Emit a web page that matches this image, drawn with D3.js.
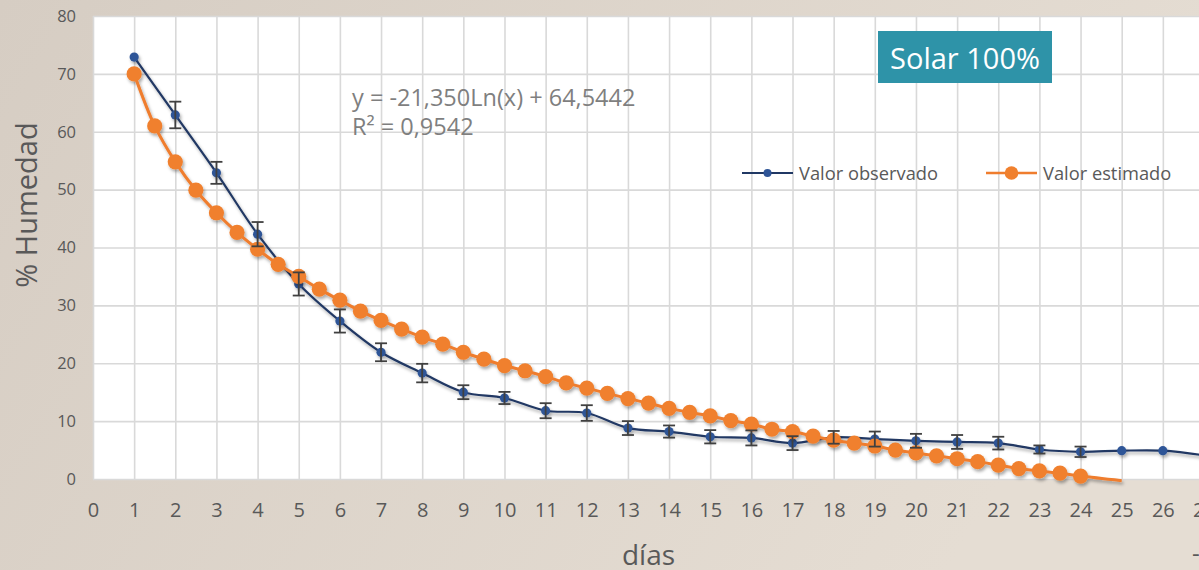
<!DOCTYPE html>
<html>
<head>
<meta charset="utf-8">
<script src="https://cdn.jsdelivr.net/npm/d3@7"></script>
<style>
  html, body { margin: 0; padding: 0; background: #ddd4ca; }
  svg { display: block; }
  text { font-family: "Open Sans", "Noto Sans", sans-serif; }
</style>
</head>
<body>
<svg id="chart" width="1199" height="570"></svg>
<script>
// Observed moisture (mean per day) and its standard error
const obsDays = [1, 2, 3, 4, 5, 6, 7, 8, 9, 10, 11, 12, 13, 14, 15, 16, 17, 18, 19, 20, 21, 22, 23, 24, 25, 26, 27];
const obsValues = [72.9, 62.9, 52.9, 42.3, 33.7, 27.3, 21.9, 18.3, 15.0, 14.0, 11.8, 11.4, 8.8, 8.2, 7.3, 7.1, 6.2, 7.2, 6.9, 6.6, 6.4, 6.2, 5.1, 4.7, 4.9, 4.9, 4.1];
const obsErrors = [0, 2.3, 1.9, 2.1, 2.0, 2.0, 1.55, 1.6, 1.2, 1.05, 1.3, 1.35, 1.2, 1.05, 1.15, 1.3, 1.2, 1.1, 1.3, 1.2, 1.2, 1.1, 0.7, 0.9, 0, 0, 0];

// Estimated moisture from the model, every half day
const estDays = [1, 1.5, 2, 2.5, 3, 3.5, 4, 4.5, 5, 5.5, 6, 6.5, 7, 7.5, 8, 8.5, 9, 9.5, 10, 10.5, 11, 11.5, 12, 12.5, 13, 13.5, 14, 14.5, 15, 15.5, 16, 16.5, 17, 17.5, 18, 18.5, 19, 19.5, 20, 20.5, 21, 21.5, 22, 22.5, 23, 23.5, 24, 25];
const estValues = [70.0, 61.0, 54.8, 49.9, 46.0, 42.6, 39.7, 37.1, 35.0, 32.8, 30.9, 29.0, 27.4, 25.9, 24.5, 23.3, 21.9, 20.7, 19.6, 18.7, 17.7, 16.6, 15.7, 14.8, 13.9, 13.1, 12.2, 11.5, 10.9, 10.1, 9.5, 8.6, 8.2, 7.4, 6.7, 6.2, 5.7, 5.0, 4.5, 4.0, 3.5, 3.0, 2.4, 1.8, 1.4, 1.0, 0.5, -0.3];

const xTicks = d3.range(0, 28);
const yTicks = [0, 10, 20, 30, 40, 50, 60, 70, 80];

const seriesNames = ["Valor observado", "Valor estimado"];
const equationLines = ["y = -21,350Ln(x) + 64,5442", "R² = 0,9542"];
const badgeText = "Solar 100%";
const xTitle = "días";
const yTitle = "% Humedad";

const W = 1199, H = 570;
const plot = { left: 93, right: 1204, top: 16, bottom: 479 };

const svg = d3.select("#chart");
const defs = svg.append("defs");

const bg = defs.append("linearGradient").attr("id", "bg").attr("x1", "0").attr("y1", "0").attr("x2", "1").attr("y2", "0.3");
bg.append("stop").attr("offset", "0").attr("stop-color", "#d6cdc3");
bg.append("stop").attr("offset", "1").attr("stop-color", "#e5ddd3");

const shadow = defs.append("filter").attr("id", "shadow")
  .attr("x", "-10%").attr("y", "-10%").attr("width", "130%").attr("height", "130%");
shadow.append("feDropShadow").attr("dx", 1.5).attr("dy", 2.5).attr("stdDeviation", 1.6)
  .attr("flood-color", "#000").attr("flood-opacity", 0.33);

svg.append("rect").attr("width", W).attr("height", H).attr("fill", "url(#bg)");

const x = d3.scaleLinear().domain([0, 27]).range([plot.left, plot.right]);
const y = d3.scaleLinear().domain([0, 80]).range([plot.bottom, plot.top]);

// plot area
svg.append("rect")
  .attr("x", plot.left).attr("y", plot.top)
  .attr("width", plot.right - plot.left).attr("height", plot.bottom - plot.top)
  .attr("fill", "#ffffff");

// gridlines
const grid = svg.append("g");
grid.append("g")
  .attr("transform", `translate(0,${plot.bottom})`)
  .call(d3.axisBottom(x).tickValues(xTicks).tickSize(-(plot.bottom - plot.top)).tickFormat(""))
  .call(g => g.select(".domain").remove())
  .call(g => g.selectAll("line").attr("stroke", "#d9d9d9").attr("stroke-width", 1.6));
grid.append("g")
  .attr("transform", `translate(${plot.left},0)`)
  .call(d3.axisLeft(y).tickValues(yTicks).tickSize(-(plot.right - plot.left)).tickFormat(""))
  .call(g => g.select(".domain").remove())
  .call(g => g.selectAll("line").attr("stroke", "#d9d9d9").attr("stroke-width", 1.6));

// axis labels
svg.append("g")
  .attr("transform", `translate(0,${plot.bottom})`)
  .call(d3.axisBottom(x).tickValues(xTicks).tickSize(0).tickPadding(24).tickFormat(d3.format("d")))
  .call(g => g.select(".domain").remove())
  .call(g => g.selectAll("text").attr("fill", "#595959").style("font-size", "20px")
    .style("font-family", '"Open Sans", sans-serif'));

svg.append("g")
  .attr("transform", `translate(${plot.left},0)`)
  .call(d3.axisLeft(y).tickValues(yTicks).tickSize(0).tickPadding(17).tickFormat(d3.format("d")))
  .call(g => g.select(".domain").remove())
  .call(g => g.selectAll("text").attr("fill", "#595959").style("font-size", "16.5px")
    .style("font-family", '"Open Sans", sans-serif'));

// axis titles
svg.append("text")
  .attr("x", (plot.left + plot.right) / 2).attr("y", 565)
  .attr("text-anchor", "middle").attr("fill", "#595959")
  .style("font-size", "28px").text(xTitle);

svg.append("text")
  .attr("transform", "translate(37,205) rotate(-90)")
  .attr("text-anchor", "middle").attr("fill", "#595959")
  .style("font-size", "29px").text(yTitle);

svg.append("text")
  .attr("x", 1192).attr("y", 562)
  .attr("fill", "#595959").style("font-size", "24px").text("-");

// observed series
const obs = obsDays.map((d, i) => ({ d, v: obsValues[i], e: obsErrors[i] }));
const est = estDays.map((d, i) => ({ d, v: estValues[i] }));

const obsLine = d3.line().x(p => x(p.d)).y(p => y(p.v)).curve(d3.curveCatmullRom.alpha(0.5));
const estLine = d3.line().x(p => x(p.d)).y(p => y(p.v)).curve(d3.curveCatmullRom.alpha(0.5));

const obsG = svg.append("g").attr("filter", "url(#shadow)");
obsG.append("path").datum(obs)
  .attr("d", obsLine).attr("fill", "none")
  .attr("stroke", "#203864").attr("stroke-width", 2.2);
obsG.selectAll("circle").data(obs).join("circle")
  .attr("cx", p => x(p.d)).attr("cy", p => y(p.v)).attr("r", 4.6)
  .attr("fill", "#2f5597");

// estimated series
const estG = svg.append("g").attr("filter", "url(#shadow)");
estG.append("path").datum(est)
  .attr("d", estLine).attr("fill", "none")
  .attr("stroke", "#ef7d2e").attr("stroke-width", 3);
estG.selectAll("circle").data(est.filter(p => p.v >= 0)).join("circle")
  .attr("cx", p => x(p.d)).attr("cy", p => y(p.v)).attr("r", 7.6)
  .attr("fill", "#f0802e");

// error bars
const errG = svg.append("g").attr("stroke", "#404040").attr("stroke-width", 1.8).attr("fill", "none");
obs.filter(p => p.e > 0).forEach(p => {
  const cx = x(p.d), y0 = y(p.v - p.e), y1 = y(p.v + p.e);
  errG.append("line").attr("x1", cx).attr("x2", cx).attr("y1", y0).attr("y2", y1);
  errG.append("line").attr("x1", cx - 6).attr("x2", cx + 6).attr("y1", y0).attr("y2", y0);
  errG.append("line").attr("x1", cx - 6).attr("x2", cx + 6).attr("y1", y1).attr("y2", y1);
});

// regression equation
const eq = svg.append("text").attr("fill", "#7f7f7f").style("font-size", "23.5px");
eq.append("tspan").attr("x", 352).attr("y", 106).text(equationLines[0]);
eq.append("tspan").attr("x", 352).attr("y", 135).text(equationLines[1]);

// badge
svg.append("rect").attr("x", 878).attr("y", 31).attr("width", 174).attr("height", 52).attr("fill", "#2e93a8");
svg.append("text").attr("x", 965).attr("y", 69).attr("text-anchor", "middle")
  .attr("fill", "#ffffff").style("font-size", "29px").text(badgeText);

// legend
const legend = svg.append("g");
const legendItems = [
  { name: seriesNames[0], x0: 742, stroke: "#203864", fill: "#2f5597", r: 4, w: 2.2 },
  { name: seriesNames[1], x0: 986, stroke: "#ef7d2e", fill: "#f0802e", r: 6.8, w: 2.6 }
];
legendItems.forEach(it => {
  legend.append("line").attr("x1", it.x0).attr("x2", it.x0 + 51).attr("y1", 173).attr("y2", 173)
    .attr("stroke", it.stroke).attr("stroke-width", it.w);
  legend.append("circle").attr("cx", it.x0 + 25.5).attr("cy", 173).attr("r", it.r).attr("fill", it.fill);
  legend.append("text").attr("x", it.x0 + 57).attr("y", 180).attr("fill", "#595959")
    .style("font-size", "18.3px").text(it.name);
});
</script>
</body>
</html>
